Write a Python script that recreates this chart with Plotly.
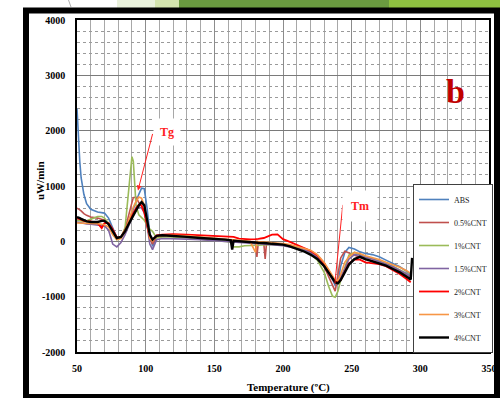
import plotly.graph_objects as go

temperature = [50, 51, 52, 53, 55, 57, 60, 65, 68, 70, 73, 76, 79, 82, 85, 88, 90, 91, 93, 95,
               97, 99, 101, 103, 105, 108, 112, 120, 130, 140, 150, 158, 162, 163, 164, 168, 172, 176, 180, 181,
               182, 186, 187, 188, 192, 196, 200, 205, 210, 215, 220, 225, 230, 233, 236, 238, 240, 242, 245, 248,
               252, 256, 260, 265, 270, 275, 280, 285, 290, 293, 294]

abs_vals = [2400, 1850, 1450, 1150, 850, 680, 580, 530, 520, 510, 420, 250, 70, 80, 200, 380, 520, 600, 720, 850,
            960, 950, 600, 150, -90, 70, 100, 90, 80, 60, 40, 20, 10, 10, 10, 0, -10, -20, -30, -30,
            -30, -40, -40, -40, -50, -50, -60, -80, -100, -130, -180, -260, -420, -550, -690, -800, -760, -450, -200, -110,
            -140, -190, -220, -240, -280, -340, -400, -460, -540, -600, None]
cnt05_vals = [600, 590, 570, 550, 500, 470, 440, 420, 400, 380, 300, 150, 50, 80, 220, 480, 700, 790, 800, 700,
              640, 540, 300, 50, -50, 80, 100, 100, 90, 70, 50, 30, 20, 20, 20, 10, 0, -10, -20, -280,
              -20, -30, -320, -30, -40, -40, -50, -80, -100, -130, -190, -280, -460, -620, -800, -900, -600, -300, -180, -210,
              -260, -300, -330, -350, -390, -430, -480, -540, -610, -660, None]
cnt1_vals = [380, 375, 370, 365, 360, 370, 400, 450, 450, 420, 330, 150, 30, 60, 250, 1100, 1530, 1450, 650, 480,
             430, 380, 300, 220, 180, 60, 80, 80, 60, 40, 20, 0, -20, -100, -100, -100, -80, -70, -70, -70,
             -70, -60, -60, -60, -60, -60, -70, -90, -110, -150, -220, -340, -560, -800, -990, -1010, -900, -700, -480, -250,
             -200, -240, -280, -310, -350, -400, -450, -510, -580, -630, None]
cnt15_vals = [350, 345, 340, 335, 320, 315, 310, 300, 290, 280, 200, -50, -100, -20, 120, 300, 420, 480, 560, 620,
              600, 520, 300, -50, -150, 30, 50, 50, 40, 30, 10, -10, -20, -20, -20, -30, -35, -40, -45, -45,
              -45, -50, -50, -50, -60, -70, -80, -100, -120, -150, -200, -290, -430, -560, -680, -760, -740, -650, -500, -320,
              -240, -250, -290, -320, -360, -410, -460, -520, -590, -640, None]
cnt2_vals = [420, 415, 400, 390, 370, 365, 360, 330, 240, 330, 330, 220, 70, 70, 200, 380, 480, 520, 600, 660,
             650, 520, 300, 60, 30, 110, 120, 130, 120, 110, 100, 95, 90, 85, 80, 50, 40, 35, 40, 40,
             45, 60, 70, 80, 120, 125, 40, -10, -60, -110, -170, -250, -400, -520, -640, -720, -740, -700, -550, -400,
             -330, -330, -380, -400, -410, -450, -520, -590, -680, -740, None]
cnt3_vals = [330, 330, 330, 325, 320, 320, 320, 320, 310, 300, 260, 120, 30, 50, 180, 400, 550, 620, 720, 800,
             780, 650, 350, 50, 0, 90, 100, 110, 100, 80, 60, 40, 30, 30, 30, 20, 10, 0, -200, 0,
             -5, -10, -15, -15, -25, -30, -40, -60, -90, -120, -160, -240, -380, -500, -620, -700, -710, -600, -380, -280,
             -200, -220, -260, -290, -330, -380, -420, -470, -530, -580, None]
cnt4_vals = [440, 435, 420, 405, 380, 360, 350, 350, 370, 370, 310, 180, 60, 80, 180, 330, 430, 480, 560, 650,
             710, 650, 400, 120, 30, 100, 110, 100, 80, 60, 50, 30, 20, -150, 10, 0, -10, -20, -25, -25,
             -25, -30, -30, -35, -45, -50, -60, -90, -130, -180, -240, -320, -450, -560, -660, -740, -760, -700, -560, -420,
             -320, -280, -320, -360, -390, -440, -500, -560, -640, -690, -300]

series_names = ["ABS", "0.5%CNT", "1%CNT", "1.5%CNT", "2%CNT", "3%CNT", "4%CNT"]
series_values = [abs_vals, cnt05_vals, cnt1_vals, cnt15_vals, cnt2_vals, cnt3_vals, cnt4_vals]
series_colors = ["#4F81BD", "#C0504D", "#9BBB59", "#8064A2", "#FF0000", "#F79646", "#000000"]
series_widths = [1.6, 1.6, 1.6, 1.6, 1.8, 1.6, 2.4]

x_ticks = [50, 100, 150, 200, 250, 300, 350]
y_ticks = [-2000, -1000, 0, 1000, 2000, 3000, 4000]

SERIF = "Liberation Serif"

fig = go.Figure()
for i, (name, vals, col, w) in enumerate(zip(series_names, series_values, series_colors, series_widths)):
    fig.add_trace(go.Scatter(x=temperature, y=vals, mode="lines", name=name,
                             legendgroup=f"g{i}",
                             line=dict(color=col, width=w)))

# plot-area geometry (px) for paper conversions
L, R, T, B = 77, 489, 20, 352
W, H = R - L, B - T


def px(xp):
    return (xp - L) / W


def py(yp):
    return (B - yp) / H


shapes = []
# top decorative slide band
band = [(117, 156, "#E9F1DC"), (155, 180, "#D3E4AE"), (179, 390, "#6A9A40"), (389, 500, "#8DC040")]
for x0, x1, c in band:
    shapes.append(dict(type="rect", xref="paper", yref="paper", x0=px(x0), x1=px(x1),
                       y0=py(8), y1=py(0), fillcolor=c, line=dict(width=0), layer="below"))
shapes.append(dict(type="line", xref="paper", yref="paper", x0=px(68.5), x1=px(71), y0=py(0), y1=py(7),
                   line=dict(color="#B0B0B0", width=1)))
# outer black frame
shapes.append(dict(type="rect", xref="paper", yref="paper", x0=px(26), x1=px(497),
                   y0=py(397), y1=py(10.5), line=dict(color="black", width=6), fillcolor="rgba(0,0,0,0)"))

fig.update_layout(
    width=500, height=398,
    margin=dict(l=L, r=500 - R, t=T, b=398 - B, autoexpand=False),
    paper_bgcolor="white", plot_bgcolor="white",
    font=dict(family=SERIF, color="black"),
    shapes=shapes,
    showlegend=True,
    legend=dict(x=px(413), y=py(184), xanchor="left", yanchor="top",
                bgcolor="white", bordercolor="#404040", borderwidth=1,
                font=dict(family=SERIF, size=8, color="#222"),
                itemwidth=30, tracegroupgap=4, traceorder="grouped"),
    xaxis=dict(range=[50, 350], tickvals=x_ticks, ticktext=[str(v) for v in x_ticks],
               showgrid=True, gridcolor="#8C8C8C", gridwidth=1, automargin=False,
               minor=dict(dtick=10, showgrid=True, gridcolor="#A8A8A8", gridwidth=1),
               showline=True, linecolor="black", linewidth=1.5, mirror=True,
               ticks="", tickfont=dict(family=SERIF, size=10, color="black", weight="bold"),
               ticklabelstandoff=6, zeroline=False),
    yaxis=dict(range=[-2000, 4000], tickvals=y_ticks, ticktext=[str(v) for v in y_ticks],
               showgrid=True, gridcolor="#7A7A7A", gridwidth=1, automargin=False,
               minor=dict(dtick=200, showgrid=True, gridcolor="#9A9A9A", gridwidth=1, griddash="dot"),
               showline=True, linecolor="black", linewidth=1.5, mirror=True,
               ticks="", tickfont=dict(family=SERIF, size=10, color="black", weight="bold"),
               ticklabelstandoff=8, zeroline=False),
)

annotations = [
    # axis titles
    dict(x=px(288), y=py(387), xref="paper", yref="paper", text="<b>Temperature (ºC)</b>", showarrow=False,
         xanchor="center", yanchor="middle", font=dict(family=SERIF, size=11, color="black")),
    dict(x=px(40), y=py(181), xref="paper", yref="paper", text="<b>uW/min</b>", showarrow=False, textangle=-90,
         xanchor="center", yanchor="middle", font=dict(family=SERIF, size=11, color="black")),
    # Tg arrow
    dict(x=94.4, y=920, xref="x", yref="y", text="", showarrow=True, ax=15, ay=-58,
         arrowcolor="#FF2020", arrowwidth=1, arrowhead=2, arrowsize=1),
    dict(x=px(167), y=py(132), xref="paper", yref="paper", text="<b>Tg</b>", showarrow=False,
         xanchor="center", yanchor="middle",
         font=dict(family=SERIF, size=12, color="#FF2020"), bgcolor="white", borderpad=6),
    # Tm line
    dict(x=237.8, y=-760, xref="x", yref="y", text="", showarrow=True, ax=8, ay=-80,
         arrowcolor="#FF2020", arrowwidth=1, arrowhead=0),
    dict(x=px(360), y=py(206), xref="paper", yref="paper", text="<b>Tm</b>", showarrow=False,
         xanchor="center", yanchor="middle",
         font=dict(family=SERIF, size=12, color="#FF2020"), bgcolor="white", borderpad=8),
    dict(x=px(455), y=py(91), xref="paper", yref="paper", text="<b>b</b>", showarrow=False,
         xanchor="center", yanchor="middle",
         font=dict(family=SERIF, size=34, color="#C00000")),
]
fig.update_layout(annotations=annotations)

fig.write_html("out.html", config={"displayModeBar": False},
               post_script="document.body.style.margin='0';document.body.style.overflow='hidden';")
